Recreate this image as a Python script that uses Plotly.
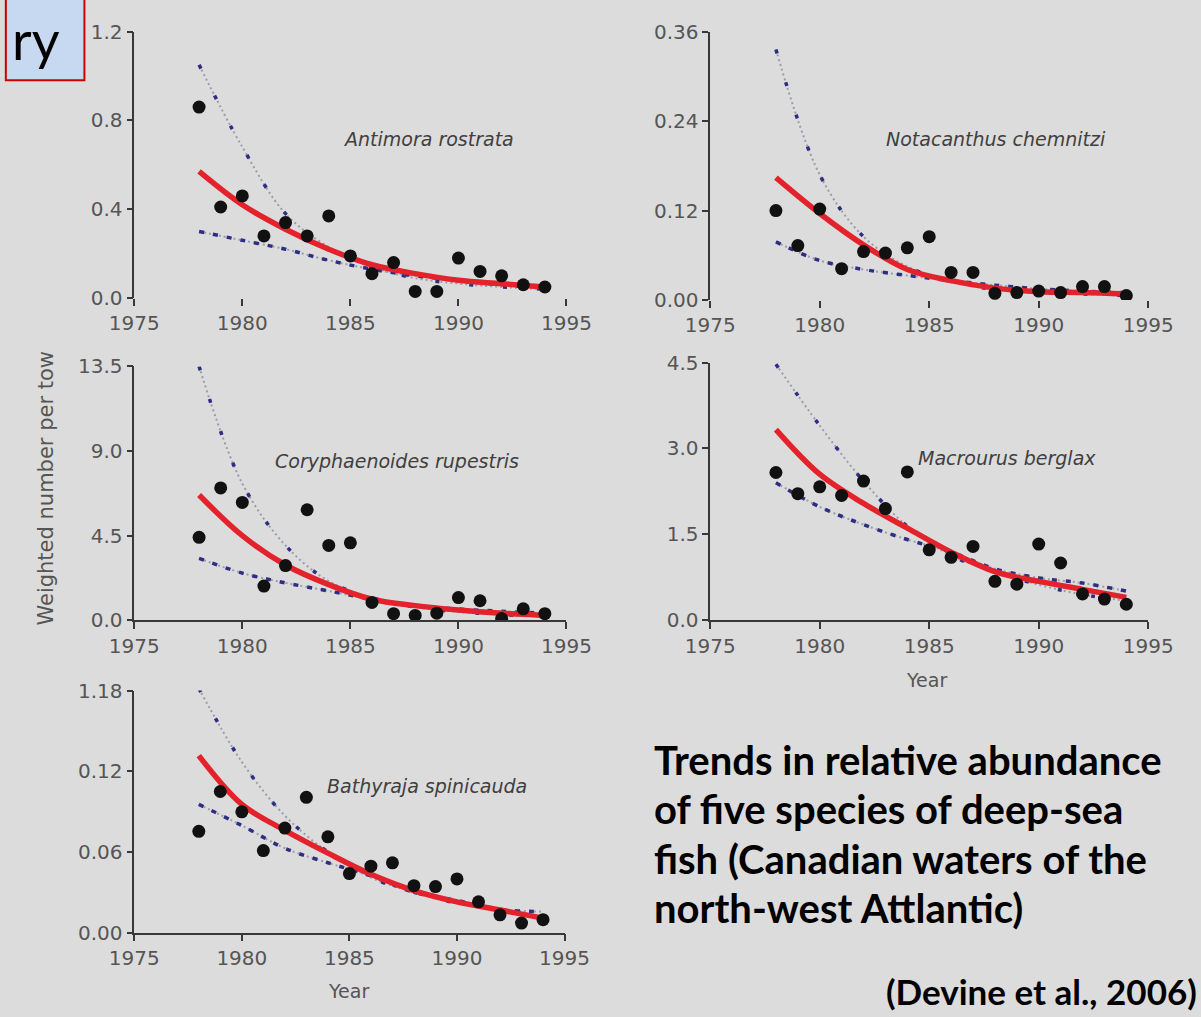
import plotly.graph_objects as go

W, H = 1201, 1017

# ---- data -------------------------------------------------------------
years = list(range(1978, 1995))
fit_years = list(range(1978, 1995, 2))

# Antimora rostrata
antimora_obs = [0.86, 0.41, 0.46, 0.28, 0.34, 0.28, 0.37, 0.19, 0.11, 0.16,
                0.03, 0.03, 0.18, 0.12, 0.10, 0.06, 0.05]
antimora_fit = [0.57, 0.42, 0.31, 0.22, 0.15, 0.11, 0.08, 0.065, 0.05]
antimora_hi = [1.05, 0.68, 0.38, 0.23, 0.14, 0.09, 0.065, 0.05, 0.04]
antimora_lo = [0.30, 0.26, 0.22, 0.17, 0.13, 0.10, 0.08, 0.06, 0.05]

# Notacanthus chemnitzi
notacanthus_obs = [0.120, 0.073, 0.122, 0.042, 0.065, 0.063, 0.070, 0.085, 0.037,
                   0.037, 0.009, 0.010, 0.012, 0.010, 0.018, 0.018, 0.006]
notacanthus_fit = [0.164, 0.116, 0.074, 0.041, 0.026, 0.016, 0.011, 0.010, 0.008]
notacanthus_hi = [0.336, 0.168, 0.085, 0.045, 0.025, 0.014, 0.010, 0.008, 0.006]
notacanthus_lo = [0.078, 0.053, 0.041, 0.033, 0.026, 0.020, 0.015, 0.012, 0.010]

# Coryphaenoides rupestris
coryphaenoides_obs = [4.41, 7.04, 6.27, 1.82, 2.91, 5.88, 3.98, 4.12, 0.95, 0.35,
                      0.26, 0.38, 1.21, 1.04, 0.09, 0.61, 0.35]
coryphaenoides_fit = [6.66, 4.50, 2.94, 1.90, 1.12, 0.78, 0.55, 0.38, 0.26]
coryphaenoides_hi = [13.5, 7.27, 3.98, 2.08, 1.20, 0.70, 0.45, 0.30, 0.20]
coryphaenoides_lo = [3.29, 2.51, 1.99, 1.56, 1.12, 0.78, 0.60, 0.48, 0.38]

# Macrourus berglax
macrourus_obs = [2.58, 2.21, 2.33, 2.18, 2.43, 1.95, 2.59, 1.23, 1.10, 1.29,
                 0.68, 0.63, 1.33, 1.00, 0.46, 0.37, 0.28]
macrourus_fit = [3.33, 2.55, 2.04, 1.61, 1.19, 0.85, 0.68, 0.54, 0.40]
macrourus_hi = [4.47, 3.40, 2.43, 1.64, 1.13, 0.85, 0.62, 0.45, 0.34]
macrourus_lo = [2.40, 1.98, 1.67, 1.41, 1.19, 0.90, 0.74, 0.65, 0.51]

# Bathyraja spinicauda
bathyraja_obs = [0.0754, 0.105, 0.0899, 0.0611, 0.0778, 0.1007, 0.0713, 0.044, 0.0495,
                 0.052, 0.035, 0.0343, 0.040, 0.023, 0.0133, 0.0072, 0.0097]
bathyraja_fit = [0.1317, 0.0954, 0.0761, 0.0592, 0.0435, 0.0314, 0.023, 0.0169, 0.0109]
bathyraja_hi = [0.1817, 0.127, 0.087, 0.060, 0.041, 0.030, 0.022, 0.017, 0.012]
bathyraja_lo = [0.0954, 0.0797, 0.0628, 0.052, 0.0423, 0.030, 0.024, 0.0174, 0.0157]

species = ["Antimora rostrata", "Notacanthus chemnitzi", "Coryphaenoides rupestris",
           "Macrourus berglax", "Bathyraja spinicauda"]

x_ticks = [1975, 1980, 1985, 1990, 1995]
y_ticks = [
    [0.0, 0.4, 0.8, 1.2],
    [0.0, 0.12, 0.24, 0.36],
    [0.0, 4.5, 9.0, 13.5],
    [0.0, 1.5, 3.0, 4.5],
    [0.0, 0.06, 0.12, 0.18],
]
y_tick_text = [
    ["0.0", "0.4", "0.8", "1.2"],
    ["0.00", "0.12", "0.24", "0.36"],
    ["0.0", "4.5", "9.0", "13.5"],
    ["0.0", "1.5", "3.0", "4.5"],
    ["0.00", "0.06", "0.12", "1.18"],
]

caption_lines = [
    "Trends in relative abundance",
    "of five species of deep-sea",
    "fish (Canadian waters of the",
    "north-west Attlantic)",
]
citation = "(Devine et al., 2006)"

# ---- layout helpers ---------------------------------------------------
def px_x(p):
    return p / W


def px_y(p):
    return 1 - p / H


BG = "#dcdcdc"
AXIS = "#383838"
SANS = "DejaVu Sans, Liberation Sans, sans-serif"
TICKFONT = dict(family=SANS, size=20, color="#555555")
RED = "#e3222b"
NAVY = "#2d2d82"
GREY_DOT = "#9a9cab"

# pixel boxes of each panel: (left, right, top, bottom)
panels = [
    (114, 565, 20, 293),
    (715, 1172, 20, 295),
    (114, 565, 363, 623),
    (715, 1172, 359, 623),
    (114, 563, 695, 943),
]
show_xline = [False, False, True, True, True]

series = [
    (antimora_obs, antimora_fit, antimora_hi, antimora_lo),
    (notacanthus_obs, notacanthus_fit, notacanthus_hi, notacanthus_lo),
    (coryphaenoides_obs, coryphaenoides_fit, coryphaenoides_hi, coryphaenoides_lo),
    (macrourus_obs, macrourus_fit, macrourus_hi, macrourus_lo),
    (bathyraja_obs, bathyraja_fit, bathyraja_hi, bathyraja_lo),
]

# species label centres in pixels
label_pos = [(421, 130), (1013, 130), (388, 460), (1025, 457), (419, 793)]

fig = go.Figure()
layout = {}

for i, ((obs, fit, hi, lo), (l, r, t, b)) in enumerate(zip(series, panels)):
    n = "" if i == 0 else str(i + 1)
    xa, ya = "x" + n, "y" + n
    # confidence bands: fine grey dots overlaid with dark squares
    for band, squares in ((hi, "4px,30px"), (lo, "5px,9px")):
        fig.add_trace(go.Scatter(
            x=fit_years, y=band, xaxis=xa, yaxis=ya, mode="lines",
            line=dict(color=GREY_DOT, width=2, dash="2px,3px", shape="spline"),
            showlegend=False, hoverinfo="skip"))
        fig.add_trace(go.Scatter(
            x=fit_years, y=band, xaxis=xa, yaxis=ya, mode="lines",
            line=dict(color=NAVY, width=3.5, dash=squares, shape="spline"),
            showlegend=False, hoverinfo="skip"))
    # fitted trend
    fig.add_trace(go.Scatter(
        x=fit_years, y=fit, xaxis=xa, yaxis=ya, mode="lines",
        line=dict(color=RED, width=5.5, shape="spline"),
        showlegend=False, hoverinfo="skip"))
    # observed values
    fig.add_trace(go.Scatter(
        x=years, y=obs, xaxis=xa, yaxis=ya, mode="markers",
        marker=dict(color="#111111", size=13),
        showlegend=False, hoverinfo="skip"))

    yt = y_ticks[i]
    layout["xaxis" + n] = dict(
        domain=[px_x(l), px_x(r)], anchor=ya, range=[1975, 1995],
        tickvals=x_ticks, ticktext=[str(v) for v in x_ticks],
        ticks="outside", ticklen=7, tickwidth=1.5, tickcolor=AXIS,
        showline=show_xline[i], linecolor=AXIS, linewidth=1.5,
        showgrid=False, zeroline=False, tickfont=TICKFONT)
    layout["yaxis" + n] = dict(
        domain=[px_y(b), px_y(t)], anchor=xa, range=[yt[0], yt[-1]],
        tickvals=yt, ticktext=y_tick_text[i],
        ticks="outside", ticklen=6, tickwidth=1.5, tickcolor=AXIS,
        showline=True, linecolor=AXIS, linewidth=1.5,
        showgrid=False, zeroline=False, tickfont=TICKFONT)

annotations = []
for name, (cx, cy) in zip(species, label_pos):
    annotations.append(dict(
        text="<i>" + name + "</i>", x=px_x(cx), y=px_y(cy), xref="paper", yref="paper",
        showarrow=False, xanchor="center", yanchor="middle",
        font=dict(family=SANS, size=19, color="#404040")))

# axis titles
annotations.append(dict(
    text="Weighted number per tow", x=px_x(22), y=px_y(488), xref="paper", yref="paper",
    showarrow=False, textangle=-90, xanchor="center", yanchor="middle",
    font=dict(family=SANS, size=21, color="#555555")))
for cx, cy in [(941, 684), (338, 1003)]:
    annotations.append(dict(
        text="Year", x=px_x(cx), y=px_y(cy), xref="paper", yref="paper",
        showarrow=False, xanchor="center", yanchor="middle",
        font=dict(family=SANS, size=19, color="#555555")))

# caption block
for k, line in enumerate(caption_lines):
    annotations.append(dict(
        text="<b>" + line + "</b>", x=px_x(654), y=px_y(766 + 50.5 * k),
        xref="paper", yref="paper", showarrow=False, xanchor="left", yanchor="middle",
        font=dict(family="Lato, sans-serif", size=40, color="#000000")))
annotations.append(dict(
    text="<b>" + citation + "</b>", x=px_x(896), y=px_y(1003),
    xref="paper", yref="paper", showarrow=False, xanchor="left", yanchor="middle",
    font=dict(family="Lato, sans-serif", size=35, color="#000000")))

# heading fragment in the corner box
annotations.append(dict(
    text="ry", x=px_x(39), y=px_y(28), xref="paper", yref="paper",
    showarrow=False, xanchor="right", yanchor="middle",
    font=dict(family="Lato, sans-serif", size=54, color="#000000")))

shapes = [dict(
    type="rect", xref="paper", yref="paper",
    x0=px_x(-20), x1=px_x(62), y0=px_y(70), y1=px_y(-20),
    fillcolor="#c6d9f0", line=dict(color="#cc0000", width=2), layer="below")]

fig.update_layout(
    width=W, height=H, margin=dict(l=0, r=0, t=0, b=0),
    paper_bgcolor=BG, plot_bgcolor=BG,
    annotations=annotations, shapes=shapes, **layout)

fig.write_html("out.html")
